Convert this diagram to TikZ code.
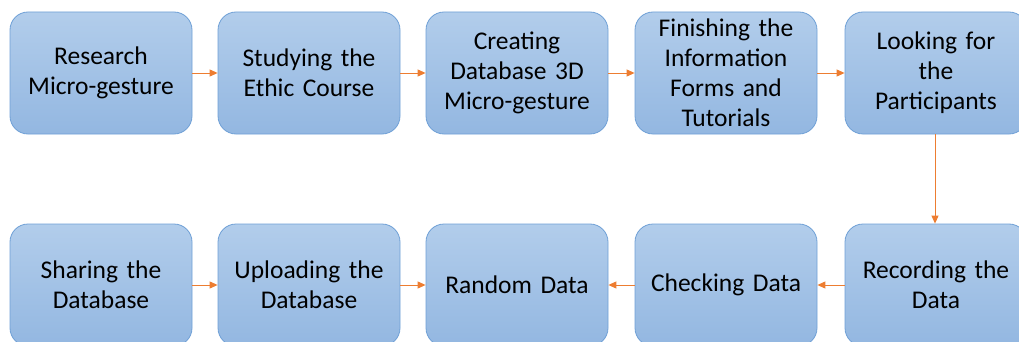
\documentclass[tikz,border=0pt]{standalone}
\usepackage{fontspec}
\setmainfont{Carlito}
\usetikzlibrary{arrows.meta}
\definecolor{boxtop}{HTML}{B2CDEB}
\definecolor{boxbot}{HTML}{93B7E1}
\definecolor{boxline}{HTML}{6FA0D6}
\definecolor{arr}{HTML}{ED7D31}
\tikzset{
  stepbox/.style={draw=boxline, line width=0.8pt, rounded corners=18pt,
    top color=boxtop, bottom color=boxbot,
    minimum width=182pt, minimum height=122pt, inner sep=0pt,
    align=center, text width=178pt,
    font=\fontsize{25.5pt}{30pt}\selectfont},
  flow/.style={draw=arr, line width=0.9pt, -{Triangle[length=8pt,width=7pt]}}
}
\begin{document}
\begin{tikzpicture}[x=1pt,y=-1pt]
\useasboundingbox (0,0) rectangle (1019,342);
\clip (0,0) rectangle (1019,342);
\node[stepbox] (a) at (101,73) {Research\\Micro-gesture};
\node[stepbox] (b) at (309,73) {Studying the\\Ethic Course};
\node[stepbox] (c) at (517,73) {Creating\\Database 3D\\Micro-gesture};
\node[stepbox] (d) at (726,73) {Finishing the\\Information\\Forms and\\Tutorials};
\node[stepbox] (e) at (936,73) {Looking for\\the\\Participants};
\node[stepbox] (f) at (101,285) {Sharing the\\Database};
\node[stepbox] (g) at (309,285) {Uploading the\\Database};
\node[stepbox] (h) at (517,285) {Random Data};
\node[stepbox] (i) at (726,285) {Checking Data};
\node[stepbox] (j) at (936,285) {Recording the\\Data};
\draw[flow] (a) -- (b);
\draw[flow] (b) -- (c);
\draw[flow] (c) -- (d);
\draw[flow] (d) -- (e);
\draw[flow] (e.south) ++(-1,0) coordinate (es) -- (es |- j.north);
\draw[flow] (j) -- (i);
\draw[flow] (i) -- (h);
\draw[flow] (f) -- (g);
\draw[flow] (g) -- (h);
\end{tikzpicture}
\end{document}
